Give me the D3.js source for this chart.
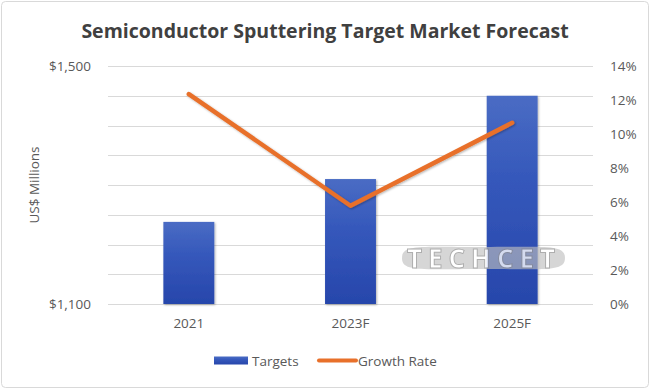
<!DOCTYPE html>
<html>
<head>
<meta charset="utf-8">
<script src="https://cdn.jsdelivr.net/npm/d3@7"></script>
<style>
  body { margin: 0; background: #fff; }
  text { font-family: "Open Sans", "Noto Sans", sans-serif; }
</style>
</head>
<body>
<script>
const years = ["2021", "2023F", "2025F"]
const targets = [1238, 1310, 1450]
const growth = [12.35, 5.78, 10.66]
const leftTicks = [1100, 1500]
const rightTicks = [0, 2, 4, 6, 8, 10, 12, 14]

const w = 650
const h = 389
const m = { top: 66, right: 57, bottom: 85, left: 108 }

const svg = d3.select('body')
    .append('svg')
    .attr('width', w)
    .attr('height', h)

// chart frame
svg.append('rect')
    .attr('x', 1.5).attr('y', 1.5)
    .attr('width', w - 3).attr('height', h - 3)
    .attr('rx', 4)
    .attr('fill', '#fff')
    .attr('stroke', '#d9d9d9')

const defs = svg.append('defs')
const grad = defs.append('linearGradient')
    .attr('id', 'barGrad')
    .attr('x1', 0).attr('y1', 0).attr('x2', 0).attr('y2', 1)
grad.append('stop').attr('offset', '0%').attr('stop-color', '#4a6cc4')
grad.append('stop').attr('offset', '40%').attr('stop-color', '#3558bb')
grad.append('stop').attr('offset', '100%').attr('stop-color', '#2746ab')

const shadow = defs.append('filter').attr('id', 'shadow')
    .attr('x', '-20%').attr('y', '-20%').attr('width', '140%').attr('height', '140%')
shadow.append('feDropShadow')
    .attr('dx', 1).attr('dy', 1).attr('stdDeviation', 1)
    .attr('flood-color', '#000').attr('flood-opacity', 0.3)

const x = d3.scaleBand()
    .domain(years)
    .range([m.left, w - m.right])
    .padding(0)

const y = d3.scaleLinear()
    .domain([1100, 1500])
    .range([h - m.bottom, m.top])

const y2 = d3.scaleLinear()
    .domain([0, 14])
    .range([h - m.bottom, m.top])

// title
svg.append('text')
    .attr('x', w / 2)
    .attr('y', 38)
    .attr('text-anchor', 'middle')
    .attr('font-size', 19.5)
    .attr('font-weight', 'bold')
    .attr('fill', '#404040')
    .text('Semiconductor Sputtering Target Market Forecast')

// gridlines
svg.append('g')
    .selectAll('line')
    .data(d3.range(1100, 1501, 50))
    .enter()
    .append('line')
    .attr('x1', m.left)
    .attr('x2', w - m.right)
    .attr('y1', d => Math.round(y(d)) + 0.5)
    .attr('y2', d => Math.round(y(d)) + 0.5)
    .attr('stroke', '#d9d9d9')
    .attr('stroke-width', 1)

// left axis
const leftAxis = svg.append('g')
    .attr('transform', `translate(${m.left - 14},0)`)
    .call(d3.axisLeft(y).tickValues(leftTicks).tickSize(0).tickFormat(d => '$' + d3.format(',')(d)))
leftAxis.select('.domain').remove()
leftAxis.selectAll('text')
    .attr('font-size', 13.5)
    .attr('fill', '#595959')
    .attr('font-family', '"Open Sans", sans-serif')

// right axis
const rightAxis = svg.append('g')
    .attr('transform', `translate(${w - m.right + 14},0)`)
    .call(d3.axisRight(y2).tickValues(rightTicks).tickSize(0).tickFormat(d => d + '%'))
rightAxis.select('.domain').remove()
rightAxis.selectAll('text')
    .attr('font-size', 13.5)
    .attr('fill', '#595959')
    .attr('font-family', '"Open Sans", sans-serif')

// x axis
const xAxis = svg.append('g')
    .attr('transform', `translate(0,${h - m.bottom + 11})`)
    .call(d3.axisBottom(x).tickSize(0))
xAxis.select('.domain').remove()
xAxis.selectAll('text')
    .attr('font-size', 13.5)
    .attr('fill', '#595959')
    .attr('font-family', '"Open Sans", sans-serif')

// y axis title
svg.append('text')
    .attr('transform', `translate(39,${(m.top + h - m.bottom) / 2}) rotate(-90)`)
    .attr('text-anchor', 'middle')
    .attr('font-size', 13.5)
    .attr('fill', '#595959')
    .text('US$ Millions')

// bars
const barW = x.bandwidth() * 0.315
svg.append('g')
    .selectAll('rect')
    .data(targets)
    .enter()
    .append('rect')
    .attr('x', (d, i) => x(years[i]) + x.bandwidth() / 2 - barW / 2)
    .attr('y', d => y(d))
    .attr('width', barW)
    .attr('height', d => y(1100) - y(d))
    .attr('fill', 'url(#barGrad)')
    .attr('filter', 'url(#shadow)')

// watermark
const wm = svg.append('g').attr('opacity', 0.8)
wm.append('path')
    .attr('d', 'M402,258 C402,244 420,247 483,247 C546,247 565,244 565,258 C565,272 546,269 483,269 C420,269 402,272 402,258 Z')
    .attr('fill', '#bfbfbf')
    .attr('opacity', 0.8)
wm.append('text')
    .attr('x', 407).attr('y', 268)
    .attr('textLength', 148)
    .attr('lengthAdjust', 'spacing')
    .attr('font-size', 26)
    .attr('font-weight', 'bold')
    .attr('font-family', '"DejaVu Sans", sans-serif')
    .attr('fill', '#fff')
    .attr('stroke', '#9a9a9a')
    .attr('stroke-width', 1)
    .text('TECHCET')

// growth line
const line = d3.line()
    .x((d, i) => x(years[i]) + x.bandwidth() / 2)
    .y(d => y2(d))

svg.append('path')
    .datum(growth)
    .attr('d', line)
    .attr('fill', 'none')
    .attr('stroke', '#e8702a')
    .attr('stroke-width', 4.5)
    .attr('stroke-linejoin', 'round')
    .attr('stroke-linecap', 'round')
    .attr('filter', 'url(#shadow)')

// legend
const lg = svg.append('g')
lg.append('rect')
    .attr('x', 214).attr('y', 356.5)
    .attr('width', 34).attr('height', 8)
    .attr('fill', 'url(#barGrad)')
lg.append('text')
    .attr('x', 252).attr('y', 365.5)
    .attr('font-size', 13.5)
    .attr('fill', '#595959')
    .text('Targets')
lg.append('line')
    .attr('x1', 319).attr('x2', 356)
    .attr('y1', 360.5).attr('y2', 360.5)
    .attr('stroke', '#e8702a')
    .attr('stroke-width', 4)
    .attr('stroke-linecap', 'round')
lg.append('text')
    .attr('x', 358).attr('y', 365.5)
    .attr('font-size', 13.5)
    .attr('fill', '#595959')
    .text('Growth Rate')
</script>
</body>
</html>
